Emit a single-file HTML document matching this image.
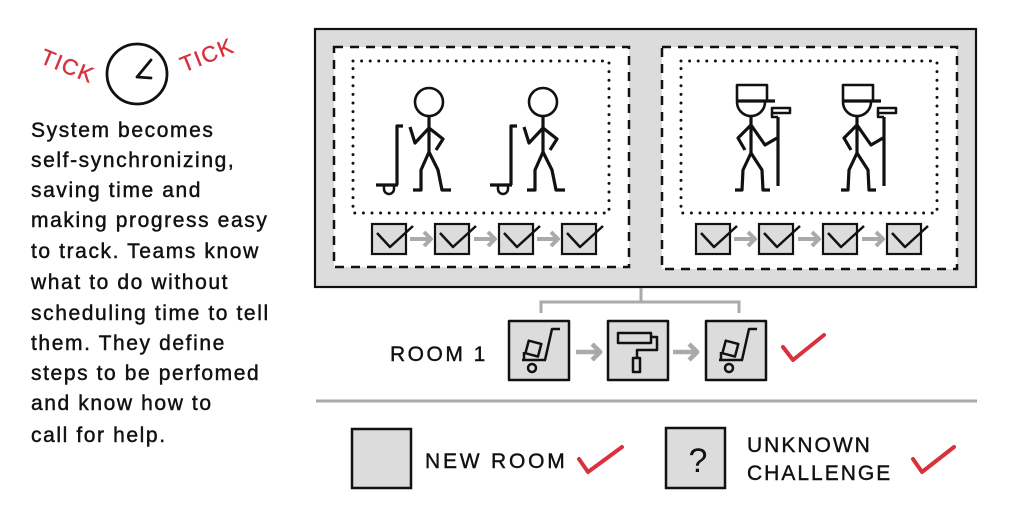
<!DOCTYPE html>
<html><head><meta charset="utf-8"><style>
html,body{margin:0;padding:0;background:#fff;}
svg{display:block;}
text{font-family:"Liberation Sans",sans-serif;}
</style></head><body>
<svg width="1024" height="512" viewBox="0 0 1024 512" xmlns="http://www.w3.org/2000/svg">
<rect width="1024" height="512" fill="#fff"/>

<!-- TICK TICK clock -->
<text x="0" y="0" font-size="22" fill="#d8323c" stroke="#d8323c" stroke-width="0.4" letter-spacing="1.5" text-anchor="middle" transform="translate(65,73) rotate(22)">TICK</text>
<text x="0" y="0" font-size="22" fill="#d8323c" stroke="#d8323c" stroke-width="0.4" letter-spacing="1.5" text-anchor="middle" transform="translate(210,62) rotate(-22)">TICK</text>
<circle cx="137" cy="74" r="30" fill="none" stroke="#111" stroke-width="2.8"/>
<path d="M151,60 L137,77 L151,78" fill="none" stroke="#111" stroke-width="2.8" stroke-linecap="round" stroke-linejoin="round"/>

<!-- paragraph -->
<g font-size="21" fill="#111" stroke="#111" stroke-width="0.45" letter-spacing="1.6">
<text x="31" y="137">System becomes</text>
<text x="31" y="167">self-synchronizing,</text>
<text x="31" y="197">saving time and</text>
<text x="31" y="227">making progress easy</text>
<text x="31" y="258">to track. Teams know</text>
<text x="31" y="289">what to do without</text>
<text x="31" y="320">scheduling time to tell</text>
<text x="31" y="350">them. They define</text>
<text x="31" y="380">steps to be perfomed</text>
<text x="31" y="410">and know how to</text>
<text x="31" y="442">call for help.</text>
</g>

<!-- outer box -->
<rect x="315" y="29" width="661" height="258" fill="#dcdcdc" stroke="#111" stroke-width="2.2"/>
<!-- dashed panels -->
<rect x="334" y="47" width="295" height="220" fill="#fff" stroke="#111" stroke-width="2.5" stroke-dasharray="9 7"/>
<rect x="662" y="47" width="295" height="222" fill="#fff" stroke="#111" stroke-width="2.5" stroke-dasharray="9 7"/>
<!-- dotted -->
<rect x="353" y="61" width="256" height="152" fill="none" stroke="#111" stroke-width="3" stroke-linecap="round" stroke-dasharray="0 8.6"/>
<rect x="681" y="61" width="256" height="152" fill="none" stroke="#111" stroke-width="3" stroke-linecap="round" stroke-dasharray="0 8.6"/>

<!-- movers -->
<defs>
<g id="mover" fill="none" stroke="#111" stroke-width="3.2" stroke-linejoin="round">
<circle cx="429" cy="102" r="14" stroke-width="2.6"/>
<path d="M429,116 L429,152"/>
<path d="M429,128 L415,143 L410,127"/>
<path d="M429,128 L443,139 L436,150"/>
<path d="M413,190 L421,190 L421,170 L429,152 L438,170 L442,190 L451,190"/>
<path d="M403,126 L397,126 L397,185 M376,185 L398,185"/>
<path d="M384,186 L384,189 A5,5 0 0 0 394,189 L394,186" stroke-width="2.5"/>
</g>
<g id="painter" fill="none" stroke="#111" stroke-width="3.2" stroke-linejoin="round">
<rect x="737" y="85" width="30" height="16" stroke-width="2.6"/>
<path d="M737,101 L775,101"/>
<path d="M737,102 A14,14 0 0 0 765,102" stroke-width="2.6"/>
<path d="M751,116 L751,153"/>
<path d="M751,125 L738,138 L745,150"/>
<path d="M751,125 L765,145 L777,138"/>
<path d="M735,190 L742,190 L743,170 L751,153 L762,170 L763,190 L770,190"/>
<path d="M778,117 L778,186"/>
<rect x="772" y="108" width="18" height="5" stroke-width="2.5"/>
<path d="M772,113 L772,117 L778,117" stroke-width="2.5"/>
</g>
<g id="cb">
<rect x="0" y="0" width="34" height="30" fill="#dcdcdc" stroke="#111" stroke-width="2.2"/>
<path d="M5,9 L18,23 L41,2" fill="none" stroke="#111" stroke-width="2.5" stroke-linejoin="round"/>
</g>
<g id="garr" fill="none" stroke="#aaa" stroke-width="4" stroke-linejoin="round">
<path d="M0,0 L20,0"/>
<path d="M14,-7 L21,0 L14,7"/>
</g>
</defs>
<use href="#mover"/>
<use href="#mover" transform="translate(114,0)"/>
<use href="#painter"/>
<use href="#painter" transform="translate(106,0)"/>

<!-- left checkbox row -->
<use href="#cb" transform="translate(372,224)"/>
<use href="#cb" transform="translate(435,224)"/>
<use href="#cb" transform="translate(499,224)"/>
<use href="#cb" transform="translate(562,224)"/>
<use href="#garr" transform="translate(410,239)"/>
<use href="#garr" transform="translate(474,239)"/>
<use href="#garr" transform="translate(537,239)"/>
<!-- right checkbox row -->
<use href="#cb" transform="translate(696,224)"/>
<use href="#cb" transform="translate(759,224)"/>
<use href="#cb" transform="translate(823,224)"/>
<use href="#cb" transform="translate(887,224)"/>
<use href="#garr" transform="translate(734,239)"/>
<use href="#garr" transform="translate(798,239)"/>
<use href="#garr" transform="translate(862,239)"/>

<!-- bracket -->
<path d="M641,288 L641,302 M541,313 L541,302 L739,302 L739,313" fill="none" stroke="#aaa" stroke-width="3"/>

<!-- Room 1 -->
<text x="390" y="361" font-size="21" fill="#111" stroke="#111" stroke-width="0.4" letter-spacing="2.5">ROOM 1</text>
<defs>
<g id="trol" fill="none" stroke="#111" stroke-width="2.5" stroke-linejoin="round">
<rect x="0" y="0" width="60" height="59" fill="#dcdcdc" stroke-width="2.5"/>
<path d="M51,8 L43,8 L36,39 M13,39 L37,39 M15,31 L15,39"/>
<rect x="18" y="21" width="13" height="13" transform="rotate(15 24 27)"/>
<circle cx="23" cy="47" r="4"/>
</g>
</defs>
<use href="#trol" transform="translate(509,321)"/>
<use href="#trol" transform="translate(706,321)"/>
<g fill="none" stroke="#111" stroke-width="2.5" stroke-linejoin="round">
<rect x="608" y="321" width="60" height="59" fill="#dcdcdc"/>
<rect x="618" y="333" width="33" height="10"/>
<path d="M651,337 L657,337 L657,350 L637,350 L637,358"/>
<rect x="633" y="358" width="7" height="14"/>
</g>
<use href="#garr" transform="translate(576,352) scale(1.15)"/>
<use href="#garr" transform="translate(673,352) scale(1.15)"/>
<path d="M783,347 L793,360 L824,335" fill="none" stroke="#d8323c" stroke-width="4" stroke-linejoin="round" stroke-linecap="round"/>

<!-- separator -->
<path d="M316,401 L977,401" stroke="#aaa" stroke-width="3"/>

<!-- legend -->
<rect x="352" y="429" width="59" height="59" fill="#dcdcdc" stroke="#111" stroke-width="2.5"/>
<text x="425" y="468" font-size="21" fill="#111" stroke="#111" stroke-width="0.4" letter-spacing="2.8">NEW ROOM</text>
<path d="M579,459 L588,472 L622,447" fill="none" stroke="#d8323c" stroke-width="4" stroke-linejoin="round" stroke-linecap="round"/>

<rect x="666" y="428" width="59" height="60" fill="#dcdcdc" stroke="#111" stroke-width="2.5"/>
<text x="698" y="472" font-size="34" fill="#111" text-anchor="middle">?</text>
<text x="747" y="452" font-size="21" fill="#111" stroke="#111" stroke-width="0.4" letter-spacing="2">UNKNOWN</text>
<text x="747" y="480" font-size="21" fill="#111" stroke="#111" stroke-width="0.4" letter-spacing="2">CHALLENGE</text>
<path d="M913,459 L922,472 L954,447" fill="none" stroke="#d8323c" stroke-width="4" stroke-linejoin="round" stroke-linecap="round"/>
</svg>
</body></html>
